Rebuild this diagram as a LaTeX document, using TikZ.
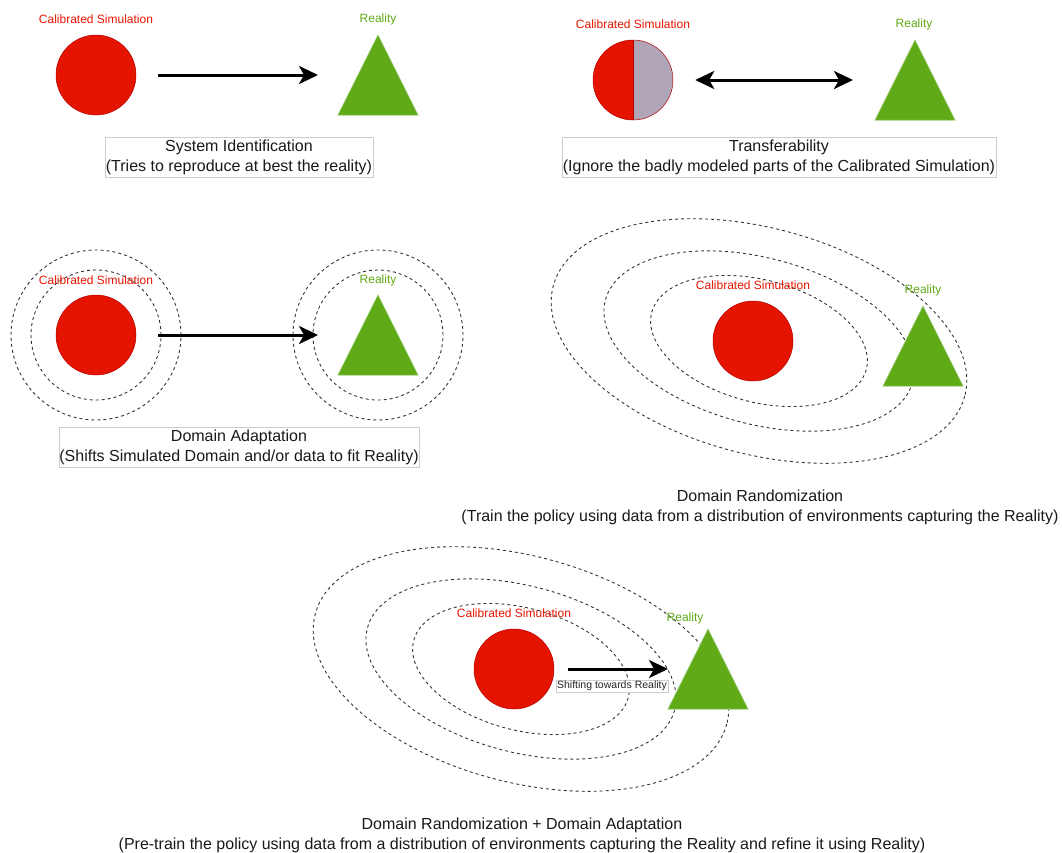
\documentclass[tikz,border=0pt]{standalone}
\usepackage{fontspec}
\setmainfont{Liberation Sans}
\usetikzlibrary{arrows.meta}
\definecolor{simred}{HTML}{E51400}
\definecolor{simedge}{HTML}{B20000}
\definecolor{realgreen}{HTML}{60A917}
\definecolor{greenedge}{HTML}{A8D48A}
\definecolor{badgray}{HTML}{B0A6B8}
\definecolor{boxgray}{HTML}{CCCCCC}
\definecolor{dashgray}{HTML}{333333}
\tikzset{
  sim/.style={circle, fill=simred, draw=simedge, line width=0.5pt, minimum size=80pt, inner sep=0pt},
  halfsim/.style={circle, draw=simedge, line width=0.5pt, minimum size=80pt, inner sep=0pt,
    path picture={
      \fill[simred] (path picture bounding box.south west) rectangle (path picture bounding box.north);
      \fill[badgray] (path picture bounding box.south) rectangle (path picture bounding box.north east);
      \draw[simedge, line width=0.4pt] (path picture bounding box.south) -- (path picture bounding box.north);
    }},
  realbox/.style={minimum width=80pt, minimum height=80pt, inner sep=0pt},
  realtri/.style={fill=realgreen, draw=greenedge, line width=0.6pt, line join=miter},
  simlabel/.style={text=simred, font=\fontsize{12}{14}\selectfont, inner sep=0pt},
  reallabel/.style={text=realgreen, font=\fontsize{12}{14}\selectfont, inner sep=0pt},
  caption/.style={align=center, font=\fontsize{16}{20}\selectfont, text=black!90, inner sep=0pt},
  capbox/.style={caption, draw=boxgray, line width=0.6pt, minimum height=40pt},
  bigarrow/.style={line width=3pt, -{Stealth[length=19pt, width=18pt, inset=5pt]}},
  botharrow/.style={line width=3pt, {Stealth[length=19pt, width=18pt, inset=5pt]}-{Stealth[length=19pt, width=18pt, inset=5pt]}},
  spread/.style={draw=dashgray, line width=0.9pt, dash pattern=on 3pt off 3pt},
}
\newcommand{\realtriangle}[1]{\fill[realtri] (#1.north) -- (#1.south east) -- (#1.south west) -- cycle;}
\begin{document}
\begin{tikzpicture}[x=1pt, y=-1pt]
\useasboundingbox (0,0) rectangle (1062,852);

% --- System Identification ---
\node[sim] (c1) at (96,75) {};
\node[realbox] (t1) at (378,75) {};
\realtriangle{t1}
\node[simlabel] (l1s) at (96,19) {Calibrated Simulation};
\node[reallabel] (l1r) at (378,19) {Reality};
\draw[bigarrow] ([xshift=22pt]c1.east) -- ([xshift=-60pt]t1.center);
\node[capbox, minimum width=268pt] (cap1) at (239,157.5) {System Identification\\(Tries to reproduce at best the reality)};

% --- Transferability ---
\node[halfsim] (c2) at (633,80) {};
\node[realbox] (t2) at (915,80) {};
\realtriangle{t2}
\node[simlabel] (l2s) at (633,24) {Calibrated Simulation};
\node[reallabel] (l2r) at (914,24) {Reality};
\draw[botharrow] ([xshift=22pt]c2.east) -- ([xshift=-62pt]t2.center);
\node[capbox, minimum width=434pt] (cap2) at (779,157.5) {Transferability\\(Ignore the badly modeled parts of the Calibrated Simulation)};

% --- Domain Adaptation ---
\node[sim] (c3) at (96,335) {};
\node[realbox] (t3) at (378,335) {};
\realtriangle{t3}
\draw[spread] (c3.center) circle[radius=85pt];
\draw[spread] (c3.center) circle[radius=65pt];
\draw[spread] (t3.center) circle[radius=85pt];
\draw[spread] (t3.center) circle[radius=65pt];
\node[simlabel] (l3s) at (96,280) {Calibrated Simulation};
\node[reallabel] (l3r) at (378,280) {Reality};
\draw[bigarrow] ([xshift=22pt]c3.east) -- ([xshift=-60pt]t3.center);
\node[capbox, minimum width=360pt] (cap3) at (239,447.5) {Domain Adaptation\\(Shifts Simulated Domain and/or data to fit Reality)};

% --- Domain Randomization ---
\coordinate (e4) at (759,341);
\draw[spread, rotate around={-15:(e4)}] (e4) ellipse [x radius=213, y radius=113];
\draw[spread, rotate around={-15:(e4)}] (e4) ellipse [x radius=159, y radius=83];
\draw[spread, rotate around={-15:(e4)}] (e4) ellipse [x radius=111, y radius=61];
\node[sim] (c4) at (753,341) {};
\node[realbox] (t4) at (923,346) {};
\realtriangle{t4}
\node[simlabel] (l4s) at (753,285) {Calibrated Simulation};
\node[reallabel] (l4r) at (923,290) {Reality};
\node[caption] (cap4) at (760,507.5) {Domain Randomization\\(Train the policy using data from a distribution of environments capturing the Reality)};

% --- Domain Randomization + Domain Adaptation ---
\coordinate (e5) at (521,669);
\draw[spread, rotate around={-15:(e5)}] (e5) ellipse [x radius=213, y radius=113];
\draw[spread, rotate around={-15:(e5)}] (e5) ellipse [x radius=159, y radius=83];
\draw[spread, rotate around={-15:(e5)}] (e5) ellipse [x radius=111, y radius=61];
\node[sim] (c5) at (514,669) {};
\node[realbox] (t5) at (708,669) {};
\realtriangle{t5}
\node[simlabel] (l5s) at (514,613) {Calibrated Simulation};
\node[reallabel] (l5r) at (685,618) {Reality};
\draw[bigarrow] ([xshift=14pt]c5.east) -- ([xshift=-40pt]t5.center);
\node[draw=boxgray, line width=0.6pt, fill=white, font=\fontsize{10.5}{12}\selectfont, text=black!85, inner sep=1pt] (shift) at (612,686) {Shifting towards Reality};
\node[caption] (cap5) at (522,835.5) {Domain Randomization + Domain Adaptation\\(Pre-train the policy using data from a distribution of environments capturing the Reality and refine it using Reality)};
\end{tikzpicture}
\end{document}
